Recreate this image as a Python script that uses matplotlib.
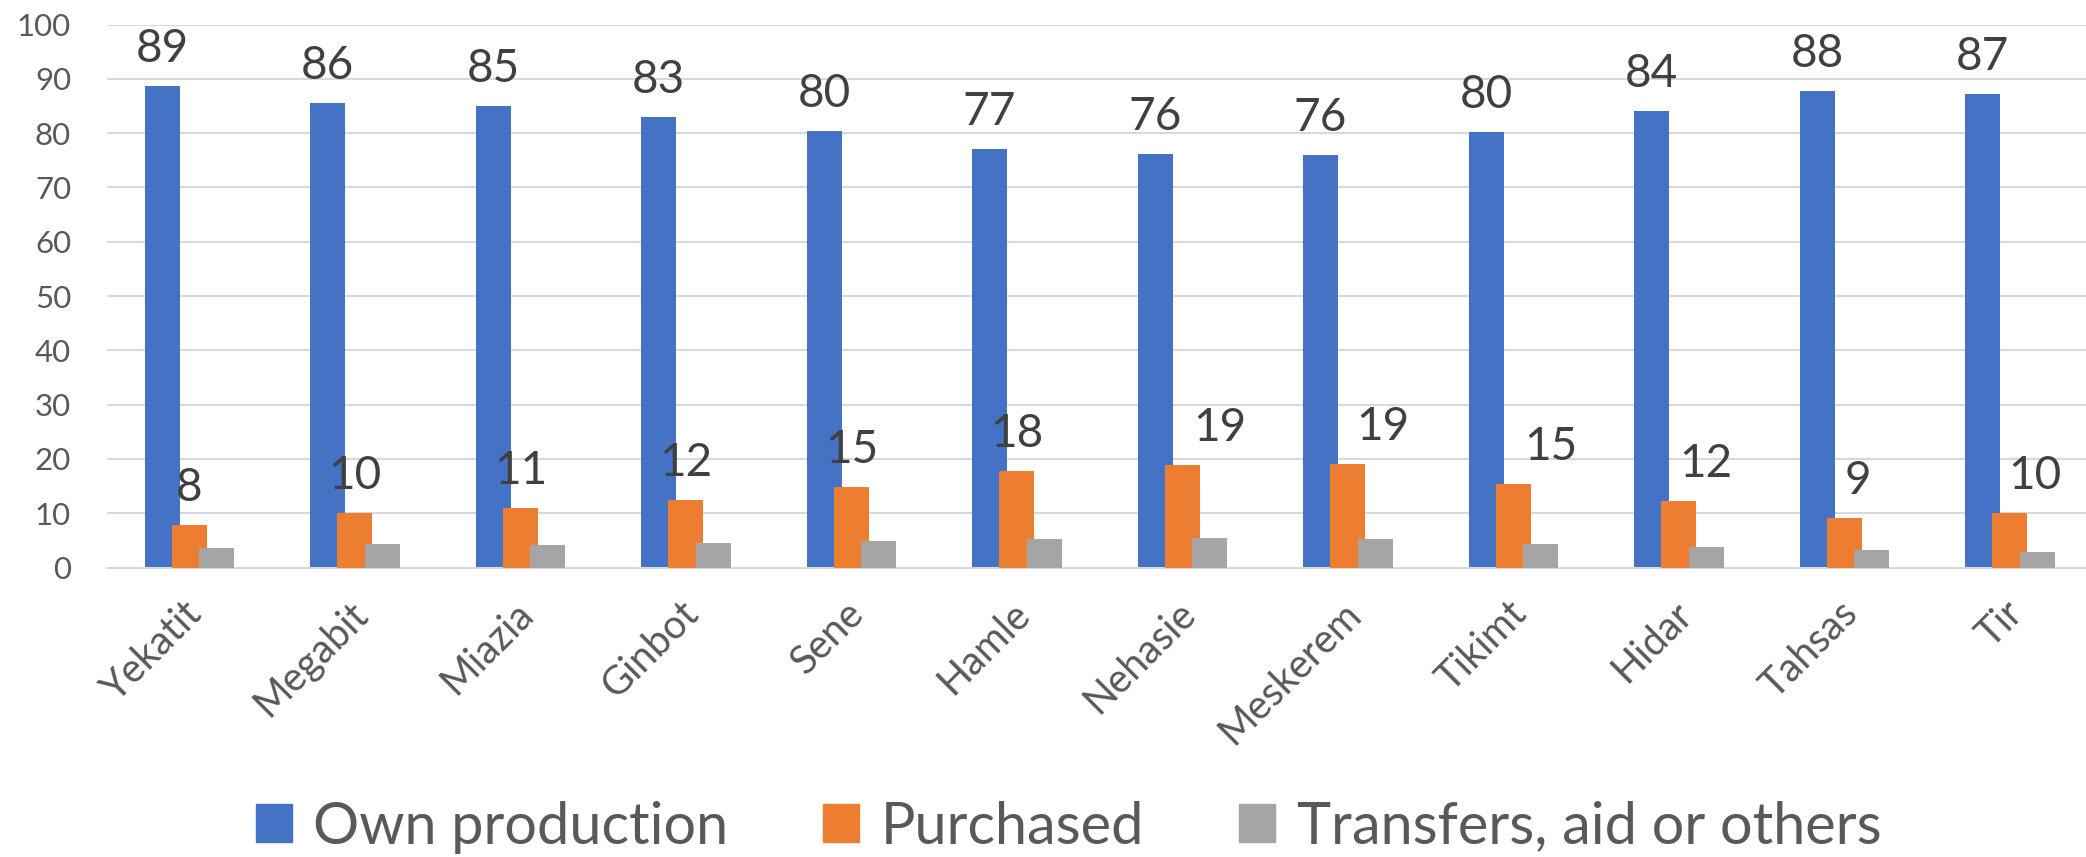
import matplotlib.pyplot as plt
import matplotlib.transforms as mtransforms
from matplotlib.patches import Patch
import numpy as np

plt.rcParams['font.family'] = ['Lato', 'DejaVu Sans']

months = ["Yekatit", "Megabit", "Miazia", "Ginbot", "Sene", "Hamle",
          "Nehasie", "Meskerem", "Tikimt", "Hidar", "Tahsas", "Tir"]
own_production = [88.7, 85.6, 84.9, 82.9, 80.4, 77.1, 76.1, 75.9, 80.2, 84.0, 87.7, 87.2]
purchased = [7.8, 10.0, 11.0, 12.4, 14.8, 17.8, 18.9, 19.1, 15.4, 12.3, 9.2, 10.0]
transfers = [3.5, 4.4, 4.1, 4.6, 4.9, 5.3, 5.4, 5.3, 4.4, 3.8, 3.2, 2.9]
series_names = ["Own production", "Purchased", "Transfers, aid or others"]

# sideways nudge (points) of the purchased labels, some were dragged right
purchased_label_dx = [0, 0, 0, 0, 0, 0, 26.6, 25.2, 26.6, 19.4, 9.7, 18.0]

colors = ["#4472C4", "#ED7D31", "#A5A5A5"]
W, H = 2086, 857

fig = plt.figure(figsize=(W / 100, H / 100), dpi=100)
ax = fig.add_axes([106.7 / W, 1 - 567.5 / H, 1986 / W, 543 / H])

x = np.arange(len(months))
bw = 0.2115
step = 0.165
ax.bar(x - step, own_production, bw, color=colors[0], zorder=2)
ax.bar(x, purchased, bw, color=colors[1], zorder=3)
ax.bar(x + step, transfers, bw, color=colors[2], zorder=4)

for i in range(len(months)):
    ax.annotate(f"{own_production[i]:.0f}", (x[i] - step, own_production[i]),
                xytext=(0, 17.3), textcoords="offset points",
                ha="center", va="baseline", fontsize=33, color="#404040")
    ax.annotate(f"{purchased[i]:.0f}", (x[i], purchased[i]),
                xytext=(purchased_label_dx[i], 17.3), textcoords="offset points",
                ha="center", va="baseline", fontsize=33, color="#404040")

ax.set_xlim(-0.5, len(months) - 0.5)
ax.set_ylim(0, 100)
ax.set_yticks(range(0, 101, 10))
ax.yaxis.grid(True, color="#D9D9D9", linewidth=1.5, zorder=0)
ax.set_axisbelow(True)
for s in ["top", "right", "left"]:
    ax.spines[s].set_visible(False)
ax.spines["bottom"].set_color("#D9D9D9")
ax.spines["bottom"].set_linewidth(1.5)

ax.tick_params(axis="y", length=0, pad=25.7, labelsize=22.5, labelcolor="#595959")
ax.tick_params(axis="x", length=0, pad=29, labelsize=28.5, labelcolor="#595959")
ax.set_xticks(x)
ax.set_xticklabels(months, rotation=45, ha="right", va="center",
                   rotation_mode="anchor")
shift = mtransforms.ScaledTranslation(5 / 72, 0, fig.dpi_scale_trans)
for lbl in ax.get_xticklabels():
    lbl.set_transform(lbl.get_transform() + shift)

handles = [Patch(color=c, label=n) for n, c in zip(series_names, colors)]
fig.legend(handles=handles, loc="center", ncol=3,
           bbox_to_anchor=(1068.5 / W, 1 - 827 / H), frameon=False,
           fontsize=41.5, labelcolor="#595959", handlelength=0.625,
           handleheight=0.625, handletextpad=0.37, columnspacing=1.65,
           borderpad=0, borderaxespad=0)

fig.savefig("out.png", dpi=100)
